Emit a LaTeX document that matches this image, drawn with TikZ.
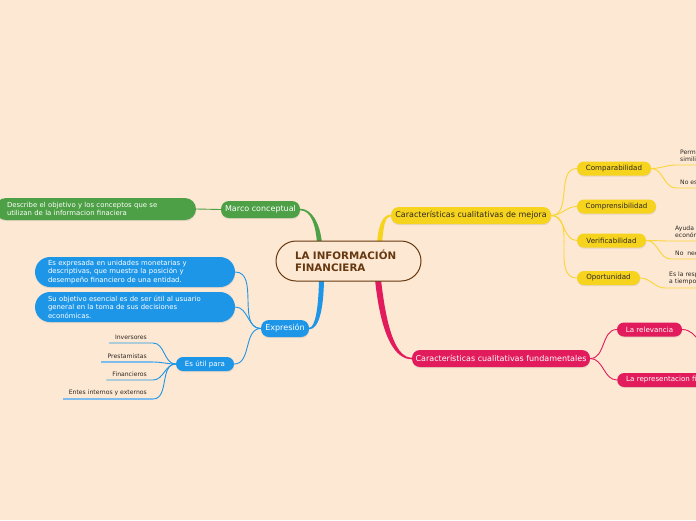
\documentclass[tikz,border=0pt]{standalone}
\usepackage{fontspec}
\setmainfont{DejaVu Sans}
\usetikzlibrary{shadows,calc}
\definecolor{bgc}{RGB}{253,232,211}
\definecolor{gr}{RGB}{77,160,69}
\definecolor{bl}{RGB}{30,150,232}
\definecolor{lbl}{RGB}{125,188,236}
\definecolor{ye}{RGB}{246,211,29}
\definecolor{yel}{RGB}{248,214,55}
\definecolor{pk}{RGB}{225,27,92}
\definecolor{br}{RGB}{102,56,16}
\definecolor{tx}{RGB}{45,40,35}
\pgfdeclarelayer{under}
\pgfsetlayers{under,main}
\tikzset{
  shad/.style={drop shadow={opacity=0.18,shadow xshift=0.3pt,shadow yshift=-1.2pt}},
  hub/.style={draw=br, line width=1pt, fill=bgc, rounded corners=20pt, minimum width=145pt, minimum height=40pt, text width=107pt, align=left, inner xsep=19pt, inner ysep=0pt, font=\bfseries\fontsize{10.3pt}{12pt}\selectfont, text=br},
  bigbox/.style={shad, rounded corners=8pt, minimum height=17pt, inner sep=0pt, font=\fontsize{8pt}{9.6pt}\selectfont},
  smallbox/.style={shad, rounded corners=7pt, minimum height=14pt, inner sep=0pt, font=\fontsize{7.1pt}{8.5pt}\selectfont},
  gbox/.style={bigbox, fill=gr, text=white},
  bbox/.style={bigbox, fill=bl, text=white},
  ybox/.style={bigbox, fill=ye, text=tx},
  pbox/.style={bigbox, fill=pk, text=white},
  bsmall/.style={smallbox, fill=bl, text=white},
  ysmall/.style={smallbox, fill=ye, text=tx},
  psmall/.style={smallbox, fill=pk, text=white},
  gdesc/.style={shad, fill=gr, text=white, rounded corners=11pt, minimum height=22pt, text width=177pt, inner xsep=12pt, inner ysep=0pt, align=left, font=\fontsize{6.9pt}{8pt}\selectfont},
  bdesc/.style={shad, fill=bl, text=white, rounded corners=15pt, minimum height=30pt, text width=174pt, inner xsep=13pt, inner ysep=0pt, align=left, font=\fontsize{6.9pt}{8.5pt}\selectfont},
  leafL/.style={anchor=south east, inner xsep=6pt, inner ysep=3pt, text=tx, font=\fontsize{6.1pt}{7pt}\selectfont},
  leafR/.style={anchor=south west, inner xsep=4pt, inner ysep=3pt, align=left, text=tx, font=\fontsize{6.1pt}{7pt}\selectfont},
  twig/.style={line width=0.9pt},
}
\begin{document}
\begin{tikzpicture}[x=1pt,y=-1pt]
\begin{pgfonlayer}{under}
\fill[bgc] (0,0) rectangle (696,520);
\end{pgfonlayer}
\useasboundingbox (0,0) rectangle (696,520);
\begin{scope}
\clip (0,0) rectangle (696,520);
% hub
\node[hub] (c) at (348.5,261) {LA INFORMACIÓN\\FINANCIERA};
% green
\node[gbox, minimum width=79pt] (marco) at (260.5,209.5) {Marco conceptual};
\node[gdesc] (descM) at (95.5,209) {Describe el objetivo y los conceptos que se\\utilizan de la informacion finaciera};
% blue
\node[bbox, minimum width=48pt] (expr) at (285,328.5) {Expresión};
\node[bdesc] (d1) at (135,272) {Es expresada en unidades monetarias y\\descriptivas, que muestra la posición y\\desempeño financiero de una entidad.};
\node[bdesc] (d2) at (135,307) {Su objetivo esencial es de ser útil al usuario\\general en la toma de sus decisiones\\económicas.};
\node[bsmall, minimum width=58pt] (util) at (205,364) {Es útil para};
\node[leafL] (inv) at (153,343) {Inversores};
\node[leafL] (pre) at (153,362) {Prestamistas};
\node[leafL] (fin) at (153,380) {Financieros};
\node[leafL] (ent) at (153,399) {Entes internos y externos};
% yellow
\node[ybox, minimum width=160pt] (mejora) at (471,215.5) {Características cualitativas de mejora};
\node[ysmall, minimum width=74pt] (comp) at (614,168.5) {Comparabilidad};
\node[ysmall, minimum width=79pt] (compr) at (616.5,206.5) {Comprensibilidad};
\node[ysmall, minimum width=69pt] (verif) at (611.5,240.5) {Verificabilidad};
\node[ysmall, minimum width=63pt] (oport) at (608.5,278) {Oportunidad};
\node[leafR] (cl1) at (676,165) {Permite\\similitudes};
\node[leafR] (cl2) at (676,188) {No es};
\node[leafR] (vl1) at (671,241) {Ayuda a\\económica};
\node[leafR] (vl2) at (671,259) {No\ \ necesita};
\node[leafR] (ol1) at (665,288) {Es la respuesta\\a tiempo};
% pink
\node[pbox, minimum width=178pt] (fund) at (501,358.5) {Características cualitativas fundamentales};
\node[psmall, minimum width=65pt] (relev) at (649.5,329.5) {La relevancia};
\node[psmall, anchor=west, inner xsep=9pt] (repr) at (617,380) {La representacion fiel};
\coordinate (relevOut) at (716,352);
% tapered trunks (under the hub)
\begin{pgfonlayer}{under}
\fill[gr] ($(c.north)+(-31.5,3)$) .. controls (315.8,225) and (311,210.3) .. ($(marco.east)+(0,0.8)$)
  -- ($(marco.east)+(0,-0.8)$) .. controls (311.5,208.7) and (320.2,223) .. ($(c.north)+(-26.5,3)$) -- cycle;
\fill[bl] ($(c.south)+(-29.5,-2)$) .. controls (318.5,309) and (315,327.8) .. ($(expr.east)+(0,-0.8)$)
  -- ($(expr.east)+(0,0.8)$) .. controls (318.5,329.3) and (323.5,311) .. ($(c.south)+(-24.5,-2)$) -- cycle;
\fill[ye] ($(c.north)+(28.5,3)$) .. controls (378.5,224) and (383,214.7) .. ($(mejora.west)+(0,-0.8)$)
  -- ($(mejora.west)+(0,0.8)$) .. controls (385,216.3) and (383.5,226) .. ($(c.north)+(33.5,3)$) -- cycle;
\fill[pk] ($(c.south)+(26.5,-2)$) .. controls (381,337) and (395,359.3) .. ($(fund.west)+(0,0.8)$)
  -- ($(fund.west)+(0,-0.8)$) .. controls (397,357.7) and (387,333) .. ($(c.south)+(32.5,-2)$) -- cycle;
\end{pgfonlayer}
% twigs
\draw[twig, gr] (marco.west) -- (descM.east);
\draw[twig, bl] (expr.west) to[out=180,in=0] (d1.east);
\draw[twig, bl] (expr.west) to[out=180,in=0] (d2.east);
\draw[twig, bl] (expr.west) to[out=180,in=0] (util.east);
\draw[twig, bl] (util.west) to[out=180,in=0] (inv.south east) -- (inv.south west);
\draw[twig, bl] (util.west) to[out=180,in=0] (pre.south east);
\draw[line width=1.6pt, lbl] (pre.south east) -- (pre.south west);
\draw[twig, bl] (util.west) to[out=180,in=0] (fin.south east) -- (fin.south west);
\draw[twig, bl] (util.west) to[out=180,in=0] (ent.south east);
\draw[line width=1.6pt, lbl] (ent.south east) -- (ent.south west);
\draw[twig, yel] (mejora.east) to[out=0,in=180] (comp.west);
\draw[twig, yel] (mejora.east) to[out=0,in=180] (compr.west);
\draw[twig, yel] (mejora.east) to[out=0,in=180] (verif.west);
\draw[twig, yel] (mejora.east) to[out=0,in=180] (oport.west);
\draw[twig, yel] (comp.east) to[out=0,in=180] (cl1.south west) -- ++(40,0);
\draw[twig, yel] (comp.east) to[out=0,in=180] (cl2.south west) -- ++(40,0);
\draw[twig, yel] (verif.east) to[out=0,in=180] (vl1.south west) -- ++(40,0);
\draw[twig, yel] (verif.east) to[out=0,in=180] (vl2.south west) -- ++(40,0);
\draw[twig, yel] (oport.east) to[out=0,in=180] (ol1.south west) -- ++(40,0);
\draw[twig, pk] (fund.east) to[out=0,in=180] (relev.west);
\draw[twig, pk] (fund.east) to[out=0,in=180] (repr.west);
\draw[twig, pk] (relev.east) to[out=0,in=180] (relevOut);
\end{scope}
\end{tikzpicture}
\end{document}
